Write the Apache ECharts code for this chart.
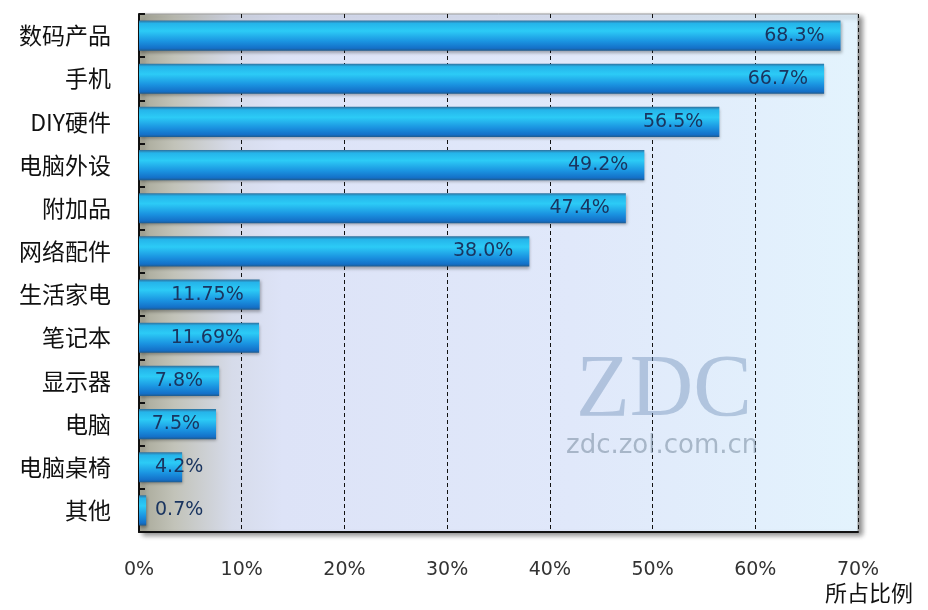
<!DOCTYPE html>
<html><head><meta charset="utf-8">
<script src="https://cdn.jsdelivr.net/npm/echarts@6/dist/echarts.min.js"></script>
<style>html,body{margin:0;padding:0;background:#fff;}#c{width:928px;height:610px;}</style>
</head><body><div id="c"></div>
<script>
const categories = ['数码产品','手机','DIY硬件','电脑外设','附加品','网络配件','生活家电','笔记本','显示器','电脑','电脑桌椅','其他'];
const values = [68.3,66.7,56.5,49.2,47.4,38.0,11.75,11.69,7.8,7.5,4.2,0.7];
const valueLabels = ['68.3%','66.7%','56.5%','49.2%','47.4%','38.0%','11.75%','11.69%','7.8%','7.5%','4.2%','0.7%'];
const axisName = '所占比例';
const xMin = 0, xMax = 70, xStep = 10;

const chart = echarts.init(document.getElementById('c'), null, {renderer:'canvas'});
const barGrad = new echarts.graphic.LinearGradient(0,0,0,1,[
  {offset:0,color:'#2f6f9c'},
  {offset:0.1,color:'#25b4ea'},
  {offset:0.35,color:'#2ccbf6'},
  {offset:0.7,color:'#1a92e0'},
  {offset:0.92,color:'#1470c8'},
  {offset:1,color:'#1f5a8c'}
]);
const bgGrad = new echarts.graphic.LinearGradient(0,0,1,0,[
  {offset:0,color:'#a8a898'},
  {offset:0.05,color:'#c2c3b9'},
  {offset:0.13,color:'#d6dbea'},
  {offset:0.2,color:'#dde3f7'},
  {offset:0.6,color:'#e0e8fa'},
  {offset:1,color:'#e3f3fd'}
]);
const data = values.map((v,i)=>({
  value:v,
  label:{
    formatter:valueLabels[i],
    position: v < 5 ? 'insideLeft' : 'insideRight',
    distance: 16
  }
}));
chart.setOption({
  animation:false,
  grid:{left:139,right:70,top:14,bottom:78,show:true,backgroundColor:bgGrad,borderColor:'#9a9a9a',borderWidth:1,
        shadowColor:'rgba(0,0,0,0.45)',shadowBlur:5,shadowOffsetX:4,shadowOffsetY:3},
  xAxis:{type:'value',min:xMin,max:xMax,interval:xStep,
    axisLine:{show:true,lineStyle:{color:'#111',width:2}},
    axisTick:{show:false},
    axisLabel:{formatter:'{value}%',margin:29,color:'#333',fontSize:19,fontFamily:'DejaVu Sans, sans-serif'},
    splitLine:{show:true,lineStyle:{color:'#111',type:[4,3],width:1}}
  },
  yAxis:{type:'category',data:categories,inverse:true,
    axisLine:{show:true,lineStyle:{color:'#111',width:2}},
    axisTick:{show:true,inside:true,length:6,lineStyle:{color:'#111',width:2}},
    axisLabel:{color:'#111',fontSize:23,margin:28,fontFamily:'Noto Sans CJK SC, sans-serif'},
    splitLine:{show:false}
  },
  graphic:[
    {type:'text',left:576,top:348,z:1,style:{text:'ZDC',font:'88px "Liberation Serif", serif',fill:'rgba(110,140,180,0.42)'}},
    {type:'text',left:566,top:433,z:1,style:{text:'zdc.zol.com.cn',font:'26px "DejaVu Sans", sans-serif',fill:'rgba(110,130,150,0.5)'}},
    {type:'text',left:825,top:582,style:{text:axisName,font:'22px "Noto Sans CJK SC", sans-serif',fill:'#111'}}
  ],
  series:[{type:'bar',data:data,barWidth:'70%',z:3,
    itemStyle:{color:barGrad,shadowColor:'rgba(0,0,0,0.3)',shadowBlur:3,shadowOffsetY:2,shadowOffsetX:1},
    label:{show:true,color:'#1a3560',fontSize:19,fontFamily:'DejaVu Sans, sans-serif'}
  }]
});
</script></body></html>
